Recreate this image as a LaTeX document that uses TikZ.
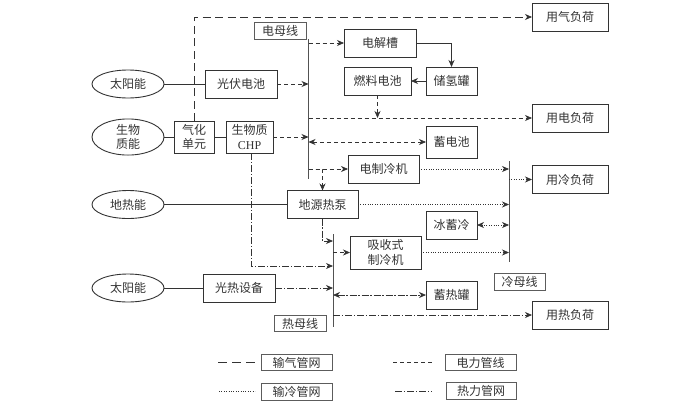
\documentclass[tikz,border=0pt]{standalone}
\usepackage{fontspec}
\setmainfont{Noto Sans CJK SC}
\newfontfamily\latinf{Liberation Serif}
\usetikzlibrary{arrows.meta,shapes.geometric}
\definecolor{ink}{HTML}{333333}
\tikzset{
  base/.style={draw=ink,line width=0.9pt,text=ink,font=\fontsize{12}{14.5}\selectfont,inner sep=0pt,outer sep=0pt,align=center},
  boxa/.style={base,rectangle,minimum width=#1},
  boxa/.default=72pt,
  tall/.style={minimum height=28pt},
  oval/.style={base,ellipse,minimum width=72pt,minimum height=28pt},
  tag/.style={base,rectangle,minimum height=16.5pt,draw=ink!80},
  conn/.style={draw=ink,line width=0.7pt},
  tip/.style={-{Stealth[length=7pt,width=6pt,inset=2.2pt]}},
  twotip/.style={{Stealth[length=7pt,width=6pt,inset=2.2pt]}-{Stealth[length=7pt,width=6pt,inset=2.2pt]}},
  gasl/.style={conn,dash pattern=on 8pt off 4.5pt},
  gaskey/.style={conn,dash pattern=on 9pt off 5pt},
  elecl/.style={conn,dash pattern=on 4pt off 3pt},
  coldl/.style={conn,dash pattern=on 1pt off 1.4pt},
  heatl/.style={conn,dash pattern=on 7pt off 1.8pt on 1.4pt off 1.8pt},
  solidl/.style={conn},
  busl/.style={draw=ink!85,line width=1pt}
}
\begin{document}
\begin{tikzpicture}[x=1pt,y=-1pt]
\useasboundingbox (0,0) rectangle (700,402);
% buses
\coordinate (ebT) at (308.5,39); \coordinate (ebB) at (308.5,179);
\coordinate (cbT) at (509,161); \coordinate (cbB) at (509,262);
\coordinate (hbT) at (333,234); \coordinate (hbB) at (333,327);
\draw[busl] (ebT) -- (ebB);
\draw[busl] (cbT) -- (cbB);
\draw[busl] (hbT) -- (hbB);
% sources
\node[oval] (sun1) at (128,84) {太阳能};
\node[oval,minimum height=32pt] (bio) at (128,137) {生物\\质能};
\node[oval] (geo) at (128,204.5) {地热能};
\node[oval] (sun2) at (128,288) {太阳能};
% devices
\node[boxa,tall] (pv) at (241,84) {光伏电池};
\node[boxa=40pt,minimum height=32pt] (gasu) at (194,137) {气化\\单元};
\node[boxa=47pt,minimum height=32pt] (chp) at (249.5,137) {生物质\\{\latinf CHP}};
\node[boxa=71pt,tall] (pump) at (322.5,204.5) {地源热泵};
\node[boxa,tall] (solar) at (239,288) {光热设备};
\node[boxa,tall] (ely) at (380,43) {电解槽};
\node[boxa=67pt,tall] (fc) at (377.5,81) {燃料电池};
\node[boxa=51pt,tall] (h2) at (451.5,81) {储氢罐};
\node[boxa=51pt,minimum height=32pt] (batt) at (451.5,142) {蓄电池};
\node[boxa=71pt,tall] (ech) at (383.5,169) {电制冷机};
\node[boxa=51pt,tall] (ice) at (451.5,225) {冰蓄冷};
\node[boxa=71pt,minimum height=33pt] (abs) at (385.5,252.5) {吸收式\\制冷机};
\node[boxa=51pt,tall] (hst) at (451.5,295) {蓄热罐};
% loads
\node[boxa=76pt,tall] (lgas) at (570,17) {用气负荷};
\node[boxa=76pt,tall] (lel) at (570,118) {用电负荷};
\node[boxa=76pt,tall] (lcold) at (570,179.5) {用冷负荷};
\node[boxa=76pt,tall] (lheat) at (570,315) {用热负荷};
% bus tags
\node[tag,minimum width=52pt] (tage) at (280,31) {电母线};
\node[tag,minimum width=51pt] (tagc) at (519.5,282) {冷母线};
\node[tag,minimum width=52pt] (tagh) at (300,323.5) {热母线};
% legend
\node[tag,minimum width=71pt] (k1) at (296.5,362.5) {输气管网};
\node[tag,minimum width=71pt] (k2) at (296.5,392) {输冷管网};
\node[tag,minimum width=71pt] (k3) at (480.5,362.5) {电力管线};
\node[tag,minimum width=70pt] (k4) at (481,391) {热力管网};
\coordinate (k1a) at (218,362); \coordinate (k1b) at (255,362);
\coordinate (k2a) at (219,391); \coordinate (k2b) at (255,391);
\coordinate (k3a) at (393,362); \coordinate (k3b) at (432,362);
\coordinate (k4a) at (395,391); \coordinate (k4b) at (432,391);
\draw[gaskey] (k1a) -- (k1b);
\draw[coldl] (k2a) -- (k2b);
\draw[elecl] (k3a) -- (k3b);
\draw[heatl] (k4a) -- (k4b);
% solid
\draw[solidl] (sun1) -- (pv);
\draw[solidl] (bio) -- (gasu);
\draw[solidl] (gasu) -- (chp);
\draw[solidl] (geo) -- (pump);
\draw[solidl] (sun2) -- (solar);
\draw[solidl,tip] (ely.east) -| (h2.north);
\draw[solidl,tip] (h2.west) -- (h2.west -| fc.east);
% gas
\draw[gasl,tip] (gasu.north) |- (lgas.west);
% electric
\draw[elecl,tip] (pv.east) -- (pv.east -| ebT);
\draw[elecl,tip] (chp.east) -- (chp.east -| ebT);
\draw[elecl,tip] (ely.west -| ebT) -- (ely.west);
\draw[elecl,tip] (lel.west -| ebT) -- (lel.west);
\draw[elecl,twotip] (batt.west -| ebT) -- (batt.west);
\draw[elecl,tip] (ech.west -| ebT) -- (ech.west);
\draw[elecl,tip] (fc.south) -- (fc.south |- lel.west);
\draw[elecl,tip] (ech.west -| ebT) -| (pump.north);
\draw[elecl,tip] (abs.west -| hbT) -- (abs.west);
% cold
\draw[coldl,tip] (ech.east) -- (ech.east -| cbT);
\draw[coldl,tip] (lcold.west -| cbT) -- (lcold.west);
\draw[coldl,tip] (pump.east) -- (pump.east -| cbT);
\draw[coldl,tip] (abs.east) -- (abs.east -| cbT);
\draw[coldl,twotip] (ice.east) -- (ice.east -| cbT);
% heat
\coordinate (phin) at (333,241);
\coordinate (chout) at (251,153);
\coordinate (chin) at (333,266);
\draw[heatl,tip] (pump.south) |- (phin);
\draw[heatl,tip] (chout) |- (chin);
\draw[heatl,tip] (solar.east) -- (solar.east -| hbT);
\draw[heatl,twotip] (hst.west -| hbT) -- (hst.west);
\draw[heatl,tip] (lheat.west -| hbT) -- (lheat.west);
\end{tikzpicture}
\end{document}
